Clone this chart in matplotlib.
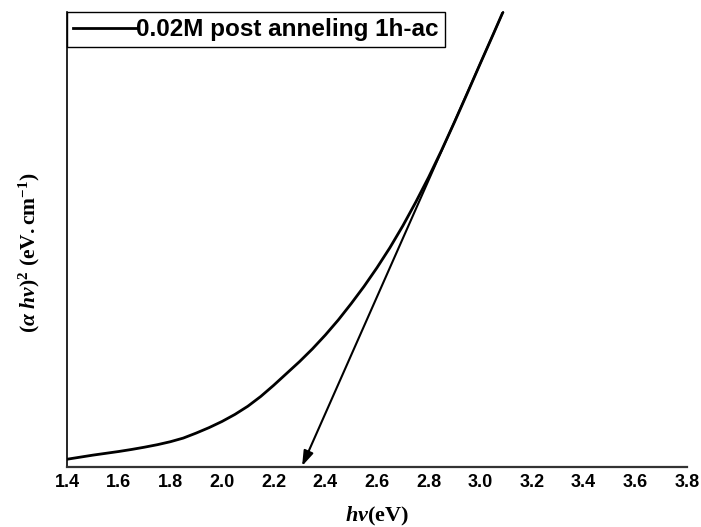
import numpy as np
import matplotlib.pyplot as plt

plt.rcParams['mathtext.fontset'] = 'custom'
plt.rcParams['mathtext.rm'] = 'Liberation Serif:bold'
plt.rcParams['mathtext.it'] = 'Liberation Serif:bold:italic'
plt.rcParams['mathtext.bf'] = 'Liberation Serif:bold'

# photon energy (eV) and (alpha h nu)^2, arbitrary units
energy = [1.40, 1.45, 1.50, 1.55, 1.60, 1.65, 1.70, 1.75, 1.80, 1.85,
          1.90, 1.95, 2.00, 2.05, 2.10, 2.15, 2.20, 2.25, 2.30, 2.35,
          2.40, 2.45, 2.50, 2.55, 2.60, 2.65, 2.70, 2.75, 2.80, 2.85,
          2.90, 2.95, 3.00, 3.05, 3.10]
ahv2 = [0.170, 0.215, 0.260, 0.300, 0.340, 0.385, 0.435, 0.490, 0.555, 0.635,
        0.745, 0.865, 1.000, 1.155, 1.335, 1.550, 1.795, 2.055, 2.315, 2.595,
        2.900, 3.230, 3.590, 3.970, 4.380, 4.820, 5.300, 5.820, 6.370, 6.960,
        7.580, 8.220, 8.870, 9.510, 10.160]

# linear extrapolation of the absorption edge
fit_start = (3.088, 10.0)
band_gap = 2.31

xticks = [1.4, 1.6, 1.8, 2.0, 2.2, 2.4, 2.6, 2.8, 3.0, 3.2, 3.4, 3.6, 3.8]

fig = plt.figure(figsize=(7.01, 5.27), dpi=100)
ax = fig.add_axes([0.0956, 0.1139, 0.8844, 0.8634])

ax.plot(energy, ahv2, color='black', lw=2.0, label='0.02M post anneling 1h-ac')
ax.annotate('', xy=(band_gap, 0.02), xytext=fit_start,
            arrowprops=dict(arrowstyle='-|>,head_length=0.9,head_width=0.3',
                            color='black', lw=1.5, shrinkA=0, shrinkB=0))

ax.set_xlim(1.4, 3.8)
ax.set_ylim(0, 10)
ax.set_xticks(xticks)
ax.set_xticklabels([f"{t:.1f}" for t in xticks], fontsize=13,
                   fontweight='bold', family='Liberation Sans')
ax.set_yticks([])
ax.tick_params(axis='x', length=0, pad=5)

for s in ['top', 'right']:
    ax.spines[s].set_visible(False)
ax.spines['left'].set_linewidth(1.2)
ax.spines['bottom'].set_linewidth(1.6)
ax.spines['bottom'].set_color('#333333')

ax.set_xlabel(r'$h\nu$(eV)', fontsize=16, fontweight='bold',
              family='Liberation Serif', labelpad=10)
ax.set_ylabel(r'$(\alpha\ h\nu)^2\ \mathrm{(eV.cm^{-1})}$', fontsize=15.5)
ax.yaxis.set_label_coords(-0.04, 0.47)

leg = ax.legend(loc='upper left', bbox_to_anchor=(0.0, 1.0), borderaxespad=0,
                prop={'family': 'Liberation Sans', 'weight': 'bold', 'size': 17.5},
                handlelength=2.6, handletextpad=0.0, borderpad=0.25,
                fancybox=False, edgecolor='black', framealpha=1)
leg.get_frame().set_linewidth(1.0)

fig.savefig('out.png', dpi=100)
